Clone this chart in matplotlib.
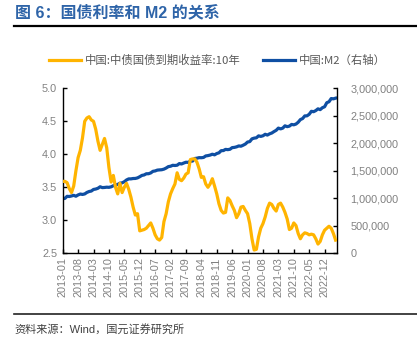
import matplotlib
matplotlib.use("Agg")
import matplotlib.pyplot as plt
from matplotlib.lines import Line2D
import numpy as np

plt.rcParams['font.family'] = ['Liberation Sans', 'Noto Sans CJK SC', 'DejaVu Sans']

# Monthly observations, 2013-01 .. 2023-05
months = [f"{y}-{m:02d}" for y in range(2013, 2024) for m in range(1, 13)][:125]

# China 10Y government bond yield (%)
yield_10y = [
    3.59, 3.59, 3.57, 3.48, 3.42, 3.52, 3.75, 3.95, 4.06, 4.25, 4.50, 4.55,   # 2013
    4.57, 4.52, 4.50, 4.38, 4.20, 4.06, 4.15, 4.24, 4.10, 3.80, 3.58, 3.68,   # 2014
    3.50, 3.40, 3.56, 3.42, 3.50, 3.56, 3.47, 3.35, 3.20, 3.08, 3.10, 2.84,   # 2015
    2.85, 2.86, 2.88, 2.92, 2.96, 2.88, 2.78, 2.72, 2.70, 2.74, 2.98, 3.10,   # 2016
    3.28, 3.40, 3.48, 3.55, 3.72, 3.62, 3.60, 3.64, 3.70, 3.72, 3.92, 3.93,   # 2017
    3.93, 3.88, 3.78, 3.65, 3.66, 3.55, 3.50, 3.55, 3.63, 3.52, 3.40, 3.25,   # 2018
    3.15, 3.11, 3.12, 3.34, 3.30, 3.22, 3.15, 3.04, 3.10, 3.20, 3.21, 3.15,   # 2019
    3.10, 2.95, 2.72, 2.55, 2.56, 2.75, 2.88, 2.95, 3.05, 3.18, 3.26, 3.24,   # 2020
    3.18, 3.14, 3.24, 3.26, 3.20, 3.12, 3.02, 2.86, 2.88, 2.96, 2.92, 2.80,   # 2021
    2.72, 2.78, 2.81, 2.80, 2.78, 2.79, 2.78, 2.72, 2.64, 2.68, 2.78, 2.85,   # 2022
    2.88, 2.91, 2.88, 2.80, 2.70,                                             # 2023
]

# China M2 money supply (100 million yuan)
m2 = [
    992129, 998600, 1035900, 1032600, 1042200, 1054000, 1037800, 1061300, 1077400, 1070200, 1079300, 1106500,
    1123500, 1131800, 1160700, 1168200, 1182100, 1209600, 1194400, 1197000, 1202000, 1199300, 1208500, 1228400,
    1240900, 1252500, 1275300, 1280900, 1301400, 1333400, 1353000, 1353100, 1359800, 1361000, 1371400, 1392300,
    1416300, 1424600, 1446200, 1446700, 1461300, 1490500, 1497400, 1512500, 1516400, 1519500, 1530400, 1550100,
    1575900, 1582900, 1600100, 1596600, 1601400, 1631300, 1624300, 1641300, 1655700, 1653400, 1674000, 1676800,
    1723600, 1729100, 1739300, 1737700, 1743100, 1770200, 1776200, 1786000, 1801700, 1790300, 1814100, 1826700,
    1865900, 1867400, 1889400, 1884700, 1891500, 1921400, 1925600, 1935500, 1952100, 1947100, 1965500, 1986500,
    2023100, 2030800, 2080900, 2094000, 2100000, 2134900, 2125500, 2136800, 2164100, 2149700, 2172000, 2186800,
    2213000, 2236000, 2276200, 2262100, 2276100, 2317800, 2302500, 2312300, 2342800, 2336200, 2350100, 2382900,
    2431000, 2449800, 2497700, 2499400, 2527500, 2581500, 2574300, 2595100, 2626600, 2612100, 2647100, 2664300,
    2738100, 2755300, 2813500, 2808500, 2820500,
]

left_ticks = [2.5, 3.0, 3.5, 4.0, 4.5, 5.0]
right_ticks = [0, 500000, 1000000, 1500000, 2000000, 2500000, 3000000]

title = "图 6：国债利率和 M2 的关系"
label_yield = "中国:中债国债到期收益率:10年"
label_m2 = "中国:M2（右轴）"
source = "资料来源：Wind，国元证券研究所"

YELLOW = "#FFB400"
BLUE = "#0F4FA3"
GRAY = "#808080"
CJK = ['Noto Sans CJK SC', 'DejaVu Sans']

W, H = 417, 341
fig = plt.figure(figsize=(W / 100, H / 100), dpi=100)
ax = fig.add_axes([62.7 / W, 1 - 253.3 / H, 274 / W, 165 / H])
ax2 = ax.twinx()

x = np.arange(len(months))
l1, = ax.plot(x, yield_10y, color=YELLOW, lw=2.3, solid_joinstyle='round', zorder=3)
l2, = ax2.plot(x, m2, color=BLUE, lw=2.3, solid_joinstyle='round', zorder=2)
ax.set_zorder(ax2.get_zorder() + 1)
ax.patch.set_visible(False)

ax.set_xlim(0, 124.5)
ax.set_ylim(2.5, 5.0)
ax2.set_ylim(0, 3000000)

tick_idx = list(range(0, len(months), 7))
ax.set_xticks(tick_idx)
ax.set_xticklabels([months[i] for i in tick_idx], rotation=90, fontsize=7.8, color=GRAY)
ax.set_yticks(left_ticks)
ax.set_yticklabels([f"{v:.1f}" for v in left_ticks], fontsize=7.8, color=GRAY)
ax2.set_yticks(right_ticks)
ax2.set_yticklabels([f"{v:,}" for v in right_ticks], fontsize=7.8, color=GRAY)

for a in (ax, ax2):
    a.spines['top'].set_visible(False)
    for s in ('left', 'right', 'bottom'):
        a.spines[s].set_linewidth(1.0)
        a.spines[s].set_color('black')
    a.tick_params(direction='in', length=3, width=1.0, pad=4)
ax.tick_params(axis='x', pad=3)
ax.spines['right'].set_visible(False)
ax2.spines['left'].set_visible(False)
ax2.spines['bottom'].set_visible(False)
ax2.tick_params(axis='y', pad=10)

# Legend above the plot
fig.legend([l1, l2], [label_yield, label_m2], loc='center', ncol=2,
           bbox_to_anchor=(0.5 * (57 + 378) / W, 1 - 60 / H), frameon=False,
           prop={'family': CJK, 'size': 8.2}, labelcolor='#595959',
           handlelength=2.8, handletextpad=0.35, columnspacing=1.9)

# Title and rules
fig.text(15 / W, 1 - 12 / H, title, fontsize=11.5, fontweight='bold', color='#2E64A8',
         family=['Liberation Sans', 'Noto Sans CJK SC'], va='center', ha='left')
fig.add_artist(Line2D([14 / W, 1], [1 - 26.3 / H] * 2, color='black', lw=1.6))
fig.add_artist(Line2D([14 / W, 1], [1 - 314.3 / H] * 2, color='#222222', lw=1.2))
fig.text(14 / W, 1 - 329 / H, source, fontsize=8.0, color='#404040',
         family=['Liberation Sans', 'Noto Sans CJK SC'], va='center', ha='left')

fig.savefig("out.png", dpi=100)
